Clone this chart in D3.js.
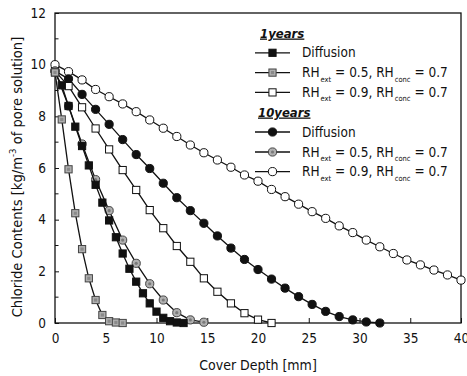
<!DOCTYPE html>
<html>
<head>
<meta charset="utf-8">
<script src="https://cdn.jsdelivr.net/npm/d3@7/dist/d3.min.js"></script>
<style>
  html, body { margin: 0; padding: 0; background: #fff; }
  svg { display: block; }
  text { font-family: "DejaVu Sans Condensed", "DejaVu Sans", sans-serif; fill: #111; }
</style>
</head>
<body>
<svg id="chart" width="467" height="376"></svg>
<script>
// Chloride profiles: cover depth [mm] vs chloride content [kg/m^3 of pore solution]

// 1 year, step 2/3 mm
const depth1yDiff = [0, 0.667, 1.333, 2, 2.667, 3.333, 4, 4.667, 5.333, 6, 6.667, 7.333, 8, 8.667, 9.333, 10, 10.667, 11.333, 12, 12.667];
const conc1yDiff  = [9.7, 9.2, 8.4, 7.6, 6.85, 6.1, 5.35, 4.66, 3.97, 3.32, 2.69, 2.1, 1.6, 1.15, 0.76, 0.44, 0.2, 0.07, 0.02, 0.0];

const depth1yRH05 = [0, 0.667, 1.333, 2, 2.667, 3.333, 4, 4.667, 5.333, 6, 6.667];
const conc1yRH05  = [9.7, 7.88, 5.95, 4.25, 2.86, 1.73, 0.89, 0.31, 0.07, 0.02, 0.0];

// 1 year, step 4/3 mm
const depth1yRH09 = [0, 1.333, 2.667, 4, 5.333, 6.667, 8, 9.333, 10.667, 12, 13.333, 14.667, 16, 17.333, 18.667, 20, 21.333];
const conc1yRH09  = [9.75, 9.17, 8.35, 7.53, 6.72, 5.92, 5.15, 4.37, 3.67, 2.98, 2.37, 1.73, 1.21, 0.76, 0.38, 0.13, 0.0];

// 10 years, step 4/3 mm
const depth10yDiff = [0, 1.333, 2.667, 4, 5.333, 6.667, 8, 9.333, 10.667, 12, 13.333, 14.667, 16, 17.333, 18.667, 20, 21.333, 22.667, 24, 25.333, 26.667, 28, 29.333, 30.667, 32];
const conc10yDiff  = [9.75, 9.45, 8.85, 8.27, 7.69, 7.1, 6.52, 5.98, 5.41, 4.85, 4.35, 3.86, 3.37, 2.9, 2.46, 2.07, 1.7, 1.35, 1.02, 0.72, 0.45, 0.25, 0.12, 0.04, 0.0];

const depth10yRH05 = [0, 1.333, 2.667, 4, 5.333, 6.667, 8, 9.333, 10.667, 12, 13.333, 14.667];
const conc10yRH05  = [9.75, 8.4, 6.93, 5.55, 4.35, 3.21, 2.31, 1.52, 0.89, 0.4, 0.12, 0.03];

const depth10yRH09 = [0, 1.333, 2.667, 4, 5.333, 6.667, 8, 9.333, 10.667, 12, 13.333, 14.667, 16, 17.333, 18.667, 20, 21.333, 22.667, 24, 25.333, 26.667, 28, 29.333, 30.667, 32, 33.333, 34.667, 36, 37.333, 38.667, 40];
const conc10yRH09  = [10.0, 9.73, 9.41, 9.04, 8.76, 8.48, 8.18, 7.86, 7.54, 7.22, 6.89, 6.59, 6.31, 6.03, 5.73, 5.49, 5.17, 4.89, 4.6, 4.31, 4.05, 3.76, 3.5, 3.21, 2.95, 2.69, 2.44, 2.25, 2.05, 1.86, 1.66];

const xTicks = [0, 5, 10, 15, 20, 25, 30, 35, 40];
const yTicks = [0, 2, 4, 6, 8, 10, 12];
const yMinorTicks = [1, 3, 5, 7, 9, 11];

const groupTitles = ["1years", "10years"];

const series = [
  { name: "Diffusion", group: 0, shape: "square", style: "filled", x: depth1yDiff, y: conc1yDiff },
  { name: "RH05", group: 0, shape: "square", style: "gray", x: depth1yRH05, y: conc1yRH05 },
  { name: "RH09", group: 0, shape: "square", style: "open", x: depth1yRH09, y: conc1yRH09 },
  { name: "Diffusion", group: 1, shape: "circle", style: "filled", x: depth10yDiff, y: conc10yDiff },
  { name: "RH05", group: 1, shape: "circle", style: "gray", x: depth10yRH05, y: conc10yRH05 },
  { name: "RH09", group: 1, shape: "circle", style: "open", x: depth10yRH09, y: conc10yRH09 }
];

const svg = d3.select("#chart");
const plot = { left: 55, right: 461, top: 13, bottom: 323 };

const x = d3.scaleLinear().domain([0, 40]).range([plot.left, plot.right]);
const y = d3.scaleLinear().domain([0, 12]).range([plot.bottom, plot.top]);

const fills = { filled: "#111", gray: "#b0b0b0", open: "#fff" };

function drawMarker(g, shape, style, cx, cy) {
  if (shape === "square") {
    g.append("rect")
      .attr("x", cx - 3.6).attr("y", cy - 3.6)
      .attr("width", 7.2).attr("height", 7.2)
      .attr("fill", fills[style])
      .attr("stroke", style === "gray" ? "#444" : "#111")
      .attr("stroke-width", 1);
    if (style === "gray") {
      g.append("rect")
        .attr("x", cx - 1.6).attr("y", cy - 1.6)
        .attr("width", 3.2).attr("height", 3.2)
        .attr("fill", "#8a8a8a").attr("stroke", "none");
    }
  } else {
    g.append("circle")
      .attr("cx", cx).attr("cy", cy).attr("r", 4.1)
      .attr("fill", fills[style])
      .attr("stroke", style === "gray" ? "#444" : "#111")
      .attr("stroke-width", 1);
    if (style === "gray") {
      g.append("circle")
        .attr("cx", cx).attr("cy", cy).attr("r", 1.6)
        .attr("fill", "#7a7a7a").attr("stroke", "none");
    }
  }
}

const tickFont = "'DejaVu Sans Condensed','DejaVu Sans',sans-serif";

// Axes (ticks pointing inward)
svg.append("g")
  .attr("transform", `translate(0,${plot.bottom})`)
  .call(d3.axisBottom(x).tickValues(xTicks).tickSize(-5).tickPadding(10).tickFormat(d3.format("d")))
  .call(g => g.select(".domain").remove())
  .call(g => g.selectAll("line").attr("stroke", "#111"))
  .call(g => g.selectAll("text").attr("font-size", 13.5).attr("fill", "#111").attr("font-family", tickFont));

svg.append("g")
  .attr("transform", `translate(${plot.left},0)`)
  .call(d3.axisLeft(y).tickValues(yTicks).tickSize(-4).tickPadding(9).tickFormat(d3.format("d")))
  .call(g => g.select(".domain").remove())
  .call(g => g.selectAll("line").attr("stroke", "#111"))
  .call(g => g.selectAll("text").attr("font-size", 13.5).attr("fill", "#111").attr("font-family", tickFont));

svg.append("g")
  .selectAll("line")
  .data(yMinorTicks)
  .join("line")
  .attr("x1", plot.left).attr("x2", plot.left + 3.5)
  .attr("y1", d => y(d)).attr("y2", d => y(d))
  .attr("stroke", "#111");

// Frame
svg.append("rect")
  .attr("x", plot.left).attr("y", plot.top)
  .attr("width", plot.right - plot.left).attr("height", plot.bottom - plot.top)
  .attr("fill", "none").attr("stroke", "#111").attr("stroke-width", 1.3);

// Curves
const line = d3.line().x(d => x(d[0])).y(d => y(d[1]));
const drawOrder = [5, 3, 2, 4, 0, 1];
drawOrder.forEach(i => {
  const s = series[i];
  const pts = s.x.map((v, k) => [v, s.y[k]]);
  svg.append("path")
    .datum(pts)
    .attr("d", line)
    .attr("fill", "none")
    .attr("stroke", "#111")
    .attr("stroke-width", 1.3);
  const mg = svg.append("g");
  pts.forEach(p => drawMarker(mg, s.shape, s.style, x(p[0]), y(p[1])));
});

// Axis titles
svg.append("text")
  .attr("x", 258).attr("y", 370)
  .attr("text-anchor", "middle")
  .attr("font-size", 14)
  .text("Cover Depth [mm]");

const yTitle = svg.append("text")
  .attr("transform", "translate(22,177) rotate(-90)")
  .attr("text-anchor", "middle")
  .attr("font-size", 14.6);
yTitle.append("tspan").text("Chloride Contents [kg/m");
yTitle.append("tspan").attr("font-size", 9.5).attr("dy", -6).text("-3");
yTitle.append("tspan").attr("dy", 6).text(" of pore solution]");

// Legend
const legend = svg.append("g");
const rowY = [33, 52.8, 72.6, 92.4, 112, 132, 152, 171.6];
let row = 0;
[0, 1].forEach(grp => {
  const ty = rowY[row++];
  legend.append("text")
    .attr("x", grp === 0 ? 260 : 258).attr("y", ty + 4.5)
    .attr("font-size", 13)
    .attr("font-weight", "bold")
    .attr("font-style", "italic")
    .attr("text-decoration", "underline")
    .text(groupTitles[grp]);
  series.filter(s => s.group === grp).forEach(s => {
    const cy = rowY[row++];
    legend.append("line")
      .attr("x1", 255).attr("x2", 290)
      .attr("y1", cy).attr("y2", cy)
      .attr("stroke", "#111").attr("stroke-width", 1.3);
    drawMarker(legend, s.shape, s.style, 272.5, cy);
    const t = legend.append("text")
      .attr("x", 302).attr("y", cy + 4.5)
      .attr("font-size", 13.5);
    if (s.name === "Diffusion") {
      t.text("Diffusion");
    } else {
      const ext = s.name === "RH05" ? "0.5" : "0.9";
      t.append("tspan").text("RH");
      t.append("tspan").attr("font-size", 7.5).attr("dx", 1).attr("dy", 4.5).text("ext");
      t.append("tspan").attr("dy", -4.5).text(` = ${ext}, RH`);
      t.append("tspan").attr("font-size", 7.5).attr("dx", 1).attr("dy", 4.5).text("conc");
      t.append("tspan").attr("dy", -4.5).text(" = 0.7");
    }
  });
});
</script>
</body>
</html>
